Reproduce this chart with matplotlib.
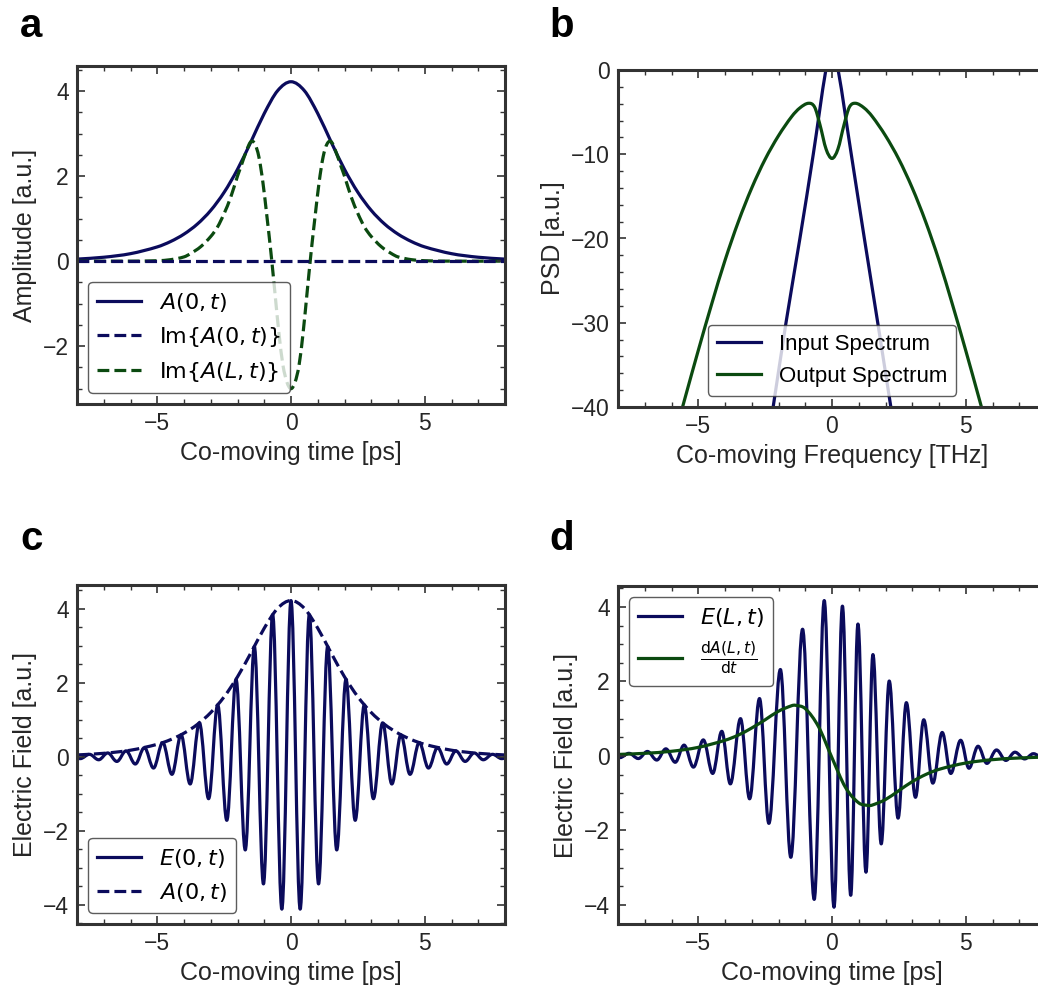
import numpy as np
import matplotlib
matplotlib.use('Agg')
import matplotlib.pyplot as plt
from matplotlib.path import Path
from matplotlib.patches import PathPatch
from matplotlib.lines import Line2D
from matplotlib.ticker import AutoMinorLocator

# ---- data ----
# input envelope A(0,t) (panel a and c)
t_env = [-8.0, -7.0, -6.0, -5.0, -4.5, -4.0, -3.5, -3.0, -2.5, -2.0, -1.5, -1.0, -0.5, 0.0,
         0.5, 1.0, 1.5, 2.0, 2.5, 3.0, 3.5, 4.0, 4.5, 5.0, 6.0, 7.0, 8.0]
a_env = [0.048, 0.092, 0.176, 0.335, 0.462, 0.636, 0.873, 1.194, 1.619, 2.159, 2.804, 3.473, 4.009, 4.22,
         4.009, 3.473, 2.804, 2.159, 1.619, 1.194, 0.873, 0.636, 0.462, 0.335, 0.176, 0.092, 0.048]

# Im{A(0,t)} is zero everywhere
t_im0 = [-8.0, 8.0]
im_a0 = [0.0, 0.0]

# Im{A(L,t)}
t_imL = [-8.0, -6.0, -5.0, -4.5, -4.0, -3.75, -3.375, -3.0, -2.75, -2.5, -2.25, -2.0, -1.875, -1.65,
         -1.5, -1.35, -1.2, -1.05, -0.9, -0.75, -0.6, -0.45, -0.3, -0.15, 0.0,
         0.15, 0.3, 0.45, 0.6, 0.75, 0.9, 1.05, 1.2, 1.35, 1.5, 1.65, 1.875, 2.0, 2.25, 2.5, 2.75,
         3.0, 3.375, 3.75, 4.0, 4.5, 5.0, 6.0, 8.0]
im_aL = [0.0, 0.0, 0.01, 0.035, 0.10, 0.18, 0.34, 0.58, 0.80, 1.12, 1.51, 2.0, 2.22, 2.62,
         2.81, 2.76, 2.45, 1.85, 1.05, 0.2, -0.75, -1.7, -2.45, -2.85, -3.0,
         -2.85, -2.45, -1.7, -0.75, 0.2, 1.05, 1.85, 2.45, 2.76, 2.81, 2.62, 2.22, 2.0, 1.51, 1.12, 0.80,
         0.58, 0.34, 0.18, 0.10, 0.035, 0.01, 0.0, 0.0]

# spectra (panel b)
f_in = [-2.6, -2.2, -1.72, -1.2, -0.7, -0.23, -0.1, 0.0, 0.1, 0.23, 0.72, 1.21, 1.71, 2.2, 2.6]
psd_in = [-48.0, -40.0, -30.0, -20.0, -10.0, 0.0, 1.0, 1.2, 1.0, 0.0, -10.0, -20.0, -30.0, -40.0, -48.0]
f_out = [-6.0, -5.5, -5.0, -4.5, -4.0, -3.5, -3.0, -2.5, -2.0, -1.5, -1.2, -0.88, -0.65, -0.45, -0.22, 0.0,
         0.22, 0.45, 0.65, 0.88, 1.2, 1.5, 2.0, 2.5, 3.0, 3.5, 4.0, 4.5, 5.0, 5.5, 6.0]
psd_out = [-44.8, -39.0, -33.3, -27.8, -22.6, -18.0, -14.0, -10.6, -7.8, -5.5, -4.5, -3.95, -4.4, -6.5, -9.4, -10.5,
           -9.4, -6.5, -4.4, -3.95, -4.5, -5.5, -7.8, -10.6, -14.0, -18.0, -22.6, -27.8, -33.3, -39.0, -44.8]

# E(0,t) extrema (panel c)
t_e0 = [-8.22, -7.88, -7.535, -7.19, -6.85, -6.51, -6.165, -5.82, -5.48, -5.14, -4.795, -4.45,
        -4.11, -3.77, -3.425, -3.08, -2.74, -2.40, -2.055, -1.71, -1.37, -1.03, -0.685, -0.3425, 0.0,
        0.3425, 0.685, 1.03, 1.37, 1.71, 2.055, 2.40, 2.74, 3.08, 3.425, 3.77, 4.11,
        4.45, 4.795, 5.14, 5.48, 5.82, 6.165, 6.51, 6.85, 7.19, 7.535, 7.88, 8.22]
e0 = [0.042, -0.052, 0.065, -0.082, 0.102, -0.127, 0.158, -0.197, 0.246, -0.306, 0.382, -0.476,
      0.592, -0.737, 0.915, -1.134, 1.400, -1.719, 2.093, -2.519, 2.978, -3.437, 3.839, -4.119, 4.22,
      -4.119, 3.839, -3.437, 2.978, -2.519, 2.093, -1.719, 1.400, -1.134, 0.915, -0.737, 0.592,
      -0.476, 0.382, -0.306, 0.246, -0.197, 0.158, -0.127, 0.102, -0.082, 0.065, -0.052, 0.042]

# E(L,t) extrema (panel d)
t_eL = [-8.28, -7.93, -7.59, -7.24, -6.9, -6.55, -6.21, -5.86, -5.53, -5.18, -4.81, -4.46,
        -4.12, -3.80, -3.42, -3.08, -2.71, -2.36, -1.93, -1.54, -1.10, -0.665, -0.29, 0.075,
        0.39, 0.70, 0.97, 1.27, 1.53, 1.84, 2.14, 2.47, 2.78, 3.12, 3.43, 3.77, 4.12,
        4.44, 4.81, 5.12, 5.46, 5.79, 6.15, 6.50, 6.84, 7.20, 7.53, 7.88, 8.22]
eL = [0.04, -0.045, 0.07, -0.07, 0.12, -0.11, 0.19, -0.17, 0.29, -0.30, 0.43, -0.47,
      0.66, -0.75, 1.0, -1.15, 1.54, -1.81, 2.32, -2.72, 3.40, -3.85, 4.17, -4.06,
      4.02, -3.74, 3.54, -3.12, 2.72, -2.36, 2.01, -1.67, 1.43, -1.11, 0.97, -0.73, 0.63,
      -0.47, 0.42, -0.33, 0.26, -0.20, 0.16, -0.12, 0.10, -0.08, 0.06, -0.05, 0.04]

# dA(L,t)/dt (panel d)
t_da = [-8.0, -7.0, -6.0, -5.0, -4.0, -3.5, -3.0, -2.5, -2.0, -1.5, -1.375, -1.0, -0.5, 0.0,
        0.5, 1.0, 1.375, 1.5, 2.0, 2.5, 3.0, 3.5, 4.0, 5.0, 6.0, 7.0, 8.0]
da = [0.04, 0.07, 0.125, 0.23, 0.42, 0.56, 0.75, 0.97, 1.2, 1.35, 1.36, 1.27, 0.78, -0.05,
      -0.84, -1.26, -1.33, -1.32, -1.17, -0.93, -0.69, -0.5, -0.36, -0.19, -0.1, -0.055, -0.03]

NAVY = '#0b0b5c'
GREEN = '#0b4a10'
TXT = '#262626'
LW = 2.3

plt.rcParams['font.family'] = ['Liberation Sans', 'DejaVu Sans']
plt.rcParams['mathtext.fontset'] = 'dejavusans'
plt.rcParams['axes.unicode_minus'] = True


def smooth_path(x, y, flat=False):
    x = np.asarray(x, float)
    y = np.asarray(y, float)
    if flat:
        m = np.zeros_like(y)
        c = 0.36
    else:
        m = np.empty_like(y)
        m[1:-1] = (y[2:] - y[:-2]) / (x[2:] - x[:-2])
        m[0] = (y[1] - y[0]) / (x[1] - x[0])
        m[-1] = (y[-1] - y[-2]) / (x[-1] - x[-2])
        c = 1 / 3
    verts = [(x[0], y[0])]
    for i in range(len(x) - 1):
        h = x[i + 1] - x[i]
        verts.append((x[i] + c * h, y[i] + m[i] * c * h))
        verts.append((x[i + 1] - c * h, y[i + 1] - m[i + 1] * c * h))
        verts.append((x[i + 1], y[i + 1]))
    codes = [Path.MOVETO] + [Path.CURVE4] * (len(verts) - 1)
    return Path(verts, codes)


def draw_curve(ax, x, y, color, ls='-', flat=False):
    ax.add_patch(PathPatch(smooth_path(x, y, flat), fill=False, edgecolor=color,
                           lw=LW, linestyle=ls, capstyle='butt', joinstyle='round'))
    return Line2D([], [], color=color, lw=LW, ls=ls)


def style(ax, yticks, ylim):
    for s in ax.spines.values():
        s.set_linewidth(2.2)
        s.set_color('#333333')
    ax.set_xlim(-8, 8)
    ax.set_ylim(*ylim)
    ax.set_xticks([-5, 0, 5])
    ax.set_yticks(yticks)
    ax.xaxis.set_minor_locator(AutoMinorLocator())
    ax.yaxis.set_minor_locator(AutoMinorLocator())
    ax.tick_params(which='both', direction='in', top=True, right=True,
                   color='#333333', labelcolor=TXT)
    ax.tick_params(which='major', length=6, width=1.2, labelsize=16.5, pad=6)
    ax.tick_params(which='minor', length=3.5, width=1.0)


W, H = 1038, 988
fig = plt.figure(figsize=(W / 100, H / 100), dpi=100)


def px_axes(left, top, right, bottom):
    return fig.add_axes([left / W, 1 - bottom / H, (right - left) / W, (bottom - top) / H])


ax_a = px_axes(77, 66, 505, 404)
ax_b = px_axes(618, 70, 1046, 407)
ax_c = px_axes(77, 585, 505, 924)
ax_d = px_axes(618, 586, 1046, 924)

leg_kw = dict(fontsize=16, frameon=True, fancybox=True, edgecolor='#333333')

# a
h1 = draw_curve(ax_a, t_env, a_env, NAVY)
ax_a.plot(t_im0, im_a0, color=NAVY, lw=LW, ls='--')
h2 = Line2D([], [], color=NAVY, lw=LW, ls='--')
h3 = draw_curve(ax_a, t_imL, im_aL, GREEN, ls='--')
style(ax_a, [-2, 0, 2, 4], (-3.36, 4.59))
ax_a.set_xlabel('Co-moving time [ps]', fontsize=18, color=TXT)
ax_a.set_ylabel('Amplitude [a.u.]', fontsize=18, color=TXT)
ax_a.legend([h1, h2, h3], [r'$A(0,t)$', r'$\mathrm{Im}\{A(0,t)\}$', r'$\mathrm{Im}\{A(L,t)\}$'],
            loc='lower left', **leg_kw)

# b
h1 = draw_curve(ax_b, f_in, psd_in, NAVY)
h2 = draw_curve(ax_b, f_out, psd_out, GREEN)
style(ax_b, [-40, -30, -20, -10, 0], (-40, 0))
ax_b.set_xlabel('Co-moving Frequency [THz]', fontsize=18, color=TXT)
ax_b.set_ylabel('PSD [a.u.]', fontsize=18, color=TXT)
ax_b.legend([h1, h2], ['Input Spectrum', 'Output Spectrum'], loc='lower center', **leg_kw)

# c
h1 = draw_curve(ax_c, t_e0, e0, NAVY, flat=True)
h2 = draw_curve(ax_c, t_env, a_env, NAVY, ls='--')
style(ax_c, [-4, -2, 0, 2, 4], (-4.52, 4.64))
ax_c.set_xlabel('Co-moving time [ps]', fontsize=18, color=TXT)
ax_c.set_ylabel('Electric Field [a.u.]', fontsize=18, color=TXT)
ax_c.legend([h1, h2], [r'$E(0,t)$', r'$A(0,t)$'], loc='lower left', **leg_kw)

# d
h1 = draw_curve(ax_d, t_eL, eL, NAVY, flat=True)
h2 = draw_curve(ax_d, t_da, da, GREEN)
style(ax_d, [-4, -2, 0, 2, 4], (-4.51, 4.56))
ax_d.set_xlabel('Co-moving time [ps]', fontsize=18, color=TXT)
ax_d.set_ylabel('Electric Field [a.u.]', fontsize=18, color=TXT)
ax_d.legend([h1, h2], [r'$E(L,t)$', r'$\frac{\mathrm{d}A(L,t)}{\mathrm{d}t}$'],
            loc='upper left', **leg_kw)

for lab, x, y in [('a', 20, 37), ('b', 549, 37), ('c', 20, 550), ('d', 549, 550)]:
    fig.text(x / W, 1 - y / H, lab, fontsize=29, fontweight='bold', va='baseline', ha='left')

fig.savefig('out.png', dpi=100)
